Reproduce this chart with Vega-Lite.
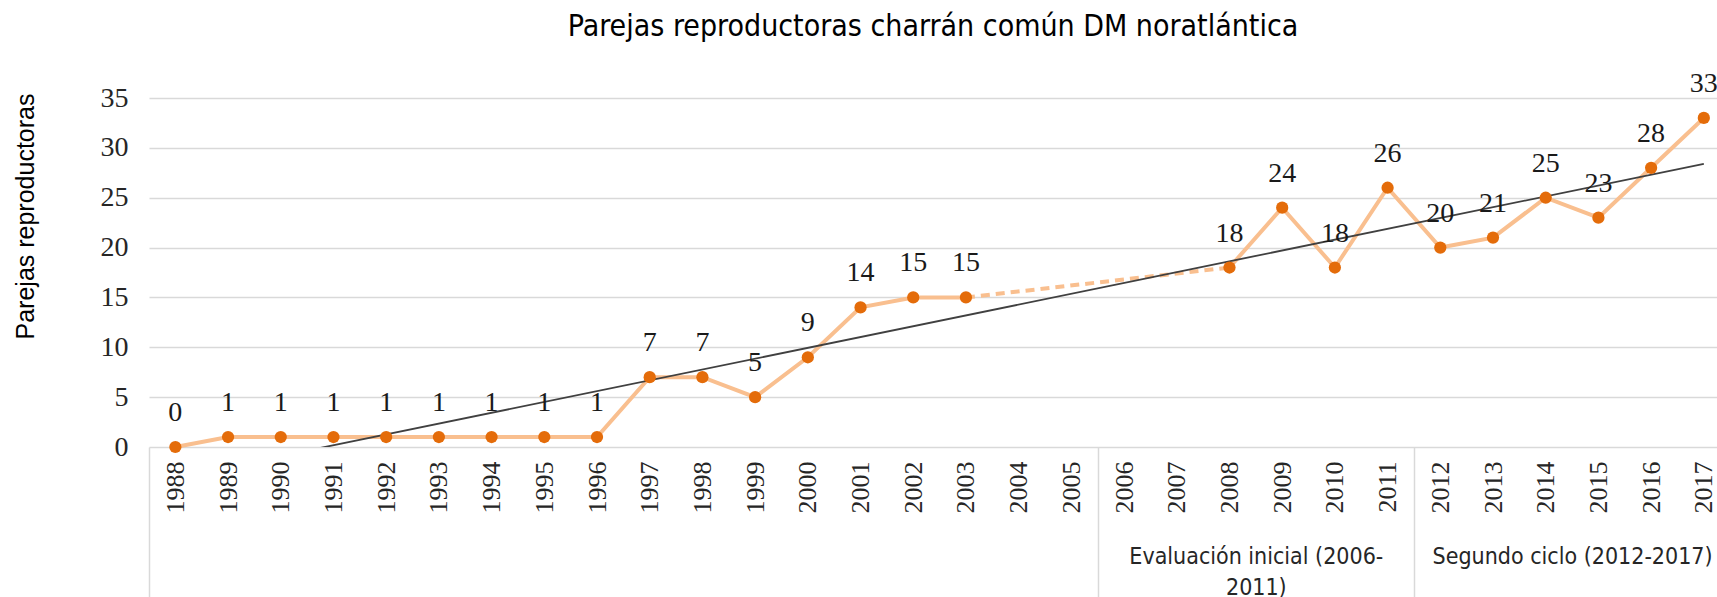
{
  "$schema": "https://vega.github.io/schema/vega-lite/v6.json",
  "width": 1568,
  "height": 349,
  "autosize": {"type": "none"},
  "padding": {"left": 149, "top": 98, "right": 0, "bottom": 150},
  "background": "white",
  "title": {
    "text": "Parejas reproductoras charrán común  DM noratlántica",
    "font": "DejaVu Sans Condensed",
    "fontSize": 30,
    "fontWeight": "normal",
    "color": "#000000",
    "anchor": "middle",
    "offset": 28
  },
  "config": {"view": {"stroke": null}},
  "data": {
    "values": [
      {"year": 1988, "value": 0},
      {"year": 1989, "value": 1},
      {"year": 1990, "value": 1},
      {"year": 1991, "value": 1},
      {"year": 1992, "value": 1},
      {"year": 1993, "value": 1},
      {"year": 1994, "value": 1},
      {"year": 1995, "value": 1},
      {"year": 1996, "value": 1},
      {"year": 1997, "value": 7},
      {"year": 1998, "value": 7},
      {"year": 1999, "value": 5},
      {"year": 2000, "value": 9},
      {"year": 2001, "value": 14},
      {"year": 2002, "value": 15},
      {"year": 2003, "value": 15},
      {"year": 2004, "value": null},
      {"year": 2005, "value": null},
      {"year": 2006, "value": null},
      {"year": 2007, "value": null},
      {"year": 2008, "value": 18},
      {"year": 2009, "value": 24},
      {"year": 2010, "value": 18},
      {"year": 2011, "value": 26},
      {"year": 2012, "value": 20},
      {"year": 2013, "value": 21},
      {"year": 2014, "value": 25},
      {"year": 2015, "value": 23},
      {"year": 2016, "value": 28},
      {"year": 2017, "value": 33}
    ]
  },
  "encoding": {
    "y": {
      "field": "value",
      "type": "quantitative",
      "scale": {"domain": [0, 35], "nice": false, "zero": false},
      "axis": {
        "values": [0, 5, 10, 15, 20, 25, 30, 35],
        "grid": true,
        "gridColor": "#d9d9d9",
        "gridWidth": 1.5,
        "domain": false,
        "ticks": false,
        "labelFont": "Liberation Serif",
        "labelFontSize": 28,
        "labelColor": "#262626",
        "labelPadding": 21,
        "title": "Parejas reproductoras",
        "titleFont": "Liberation Sans",
        "titleFontSize": 25,
        "titleFontWeight": "normal",
        "titleColor": "#000000",
        "titleAngle": 270,
        "titleX": -124,
        "titleY": 118,
        "titleAlign": "center",
        "titleBaseline": "middle"
      }
    }
  },
  "resolve": {"axis": {"x": "independent"}},
  "layer": [
    {
      "mark": {"type": "line", "color": "#F9BF8F", "strokeWidth": 4},
      "encoding": {
        "x": {
          "field": "year",
          "type": "quantitative",
          "scale": {"domain": [1987.5, 2017.25], "nice": false, "zero": false},
          "axis": {
            "orient": "bottom",
            "values": [1988, 1989, 1990, 1991, 1992, 1993, 1994, 1995, 1996, 1997, 1998, 1999, 2000, 2001, 2002, 2003, 2004, 2005, 2006, 2007, 2008, 2009, 2010, 2011, 2012, 2013, 2014, 2015, 2016, 2017],
            "format": "d",
            "labelAngle": 270,
            "labelAlign": "right",
            "labelBaseline": "middle",
            "labelPadding": 14,
            "labelFont": "Liberation Serif",
            "labelFontSize": 26,
            "labelColor": "#262626",
            "labelOverlap": false,
            "labelFlush": false,
            "labelBound": false,
            "ticks": false,
            "tickSize": 0,
            "domain": false,
            "grid": false,
            "title": null
          }
        }
      }
    },
    {
      "transform": [{"filter": {"field": "year", "oneOf": [2003, 2008]}}],
      "mark": {"type": "line", "color": "#F9BF8F", "strokeWidth": 4, "strokeDash": [9, 6]},
      "encoding": {
        "x": {
          "field": "year",
          "type": "quantitative",
          "scale": {"domain": [1987.5, 2017.25], "nice": false, "zero": false},
          "axis": {
            "orient": "bottom",
            "values": [1987.5, 2005.5, 2011.5],
            "labels": false,
            "ticks": true,
            "tickSize": 150,
            "tickColor": "#d9d9d9",
            "tickWidth": 1.5,
            "domain": false,
            "grid": false,
            "title": null
          }
        }
      }
    },
    {
      "transform": [{"regression": "value", "on": "year"}],
      "mark": {"type": "line", "color": "#404040", "strokeWidth": 1.8, "clip": true},
      "encoding": {
        "x": {
          "field": "year",
          "type": "quantitative",
          "scale": {"domain": [1987.5, 2017.25], "nice": false, "zero": false},
          "axis": {
            "orient": "bottom",
            "values": [2008.5, 2014.5],
            "labelExpr": "datum.value < 2010 ? ['Evaluación inicial (2006-', '2011)'] : 'Segundo ciclo (2012-2017)'",
            "labelFont": "DejaVu Sans Condensed",
            "labelFontSize": 23,
            "labelColor": "#262626",
            "labelAngle": 0,
            "labelAlign": "center",
            "labelBaseline": "top",
            "labelPadding": 98,
            "labelLineHeight": 31,
            "labelLimit": 0,
            "labelOverlap": false,
            "labelFlush": false,
            "labelBound": false,
            "ticks": false,
            "tickSize": 0,
            "domain": false,
            "grid": false,
            "title": null
          }
        }
      }
    },
    {
      "mark": {"type": "circle", "color": "#E46C0A", "opacity": 1, "size": 150},
      "encoding": {
        "x": {
          "field": "year",
          "type": "quantitative",
          "scale": {"domain": [1987.5, 2017.25], "nice": false, "zero": false},
          "axis": null
        }
      }
    },
    {
      "mark": {"type": "text", "dy": -34, "font": "Liberation Serif", "fontSize": 28, "color": "#1a1a1a"},
      "encoding": {
        "x": {
          "field": "year",
          "type": "quantitative",
          "scale": {"domain": [1987.5, 2017.25], "nice": false, "zero": false},
          "axis": null
        },
        "text": {"field": "value", "type": "quantitative"}
      }
    }
  ]
}
